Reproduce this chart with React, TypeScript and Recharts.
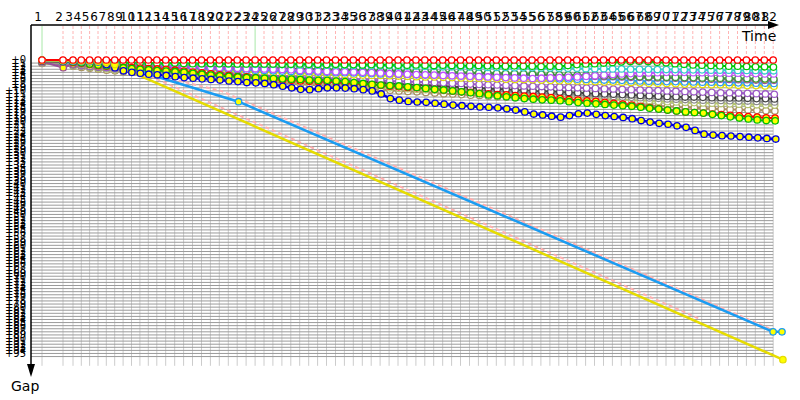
import React from "react";
import { LineChart, Line, XAxis, YAxis, ReferenceLine } from "recharts";

// leader's elapsed time (s) at the end of each lap, laps 1..82
const lapTimes = [
  110, 320, 420, 503, 586, 670, 753, 837, 921, 1005,
  1089, 1173, 1258, 1347, 1437, 1526, 1615, 1705, 1794, 1883,
  1973, 2062, 2151, 2241, 2330, 2419, 2509, 2598, 2687, 2777,
  2866, 2955, 3045, 3134, 3223, 3313, 3402, 3491, 3581, 3670,
  3759, 3849, 3938, 4027, 4117, 4206, 4295, 4385, 4474, 4563,
  4653, 4742, 4831, 4921, 5010, 5099, 5189, 5278, 5367, 5457,
  5546, 5635, 5725, 5814, 5903, 5993, 6082, 6171, 6261, 6350,
  6439, 6529, 6618, 6707, 6797, 6886, 6975, 7065, 7154, 7243,
  7333, 7422,
];
const lapLabels = lapTimes.map((_, i) => String(i + 1));
const gapTicks = Array.from({ length: 96 }, (_, i) => i);
const gapLines = Array.from({ length: 96 }, (_, i) => i + 1);
const greenLaps = [1, 24];

// gap to leader (s) per lap
const leader = [
  0, 0, 0, 0, 0, 0, 0, 0, 0, 0, 0, 0, 0, 0, 0, 0, 0, 0, 0, 0,
  0, 0, 0, 0, 0, 0, 0, 0, 0, 0, 0, 0, 0, 0, 0, 0, 0, 0, 0, 0,
  0, 0, 0, 0, 0, 0, 0, 0, 0, 0, 0, 0, 0, 0, 0, 0, 0, 0, 0, 0,
  0, 0, 0, 0, 0, 0, 0, 0, 0, 0, 0, 0, 0, 0, 0, 0, 0, 0, 0, 0,
  0, 0,
];
const green = [
  0.3, 0.5, 0.6, 0.6, 0.7, 0.7, 0.8, 0.8, 0.9, 0.9,
  1.0, 1.0, 1.1, 1.1, 1.0, 1.1, 1.2, 1.2, 1.1, 1.2,
  1.2, 1.3, 1.3, 1.2, 1.3, 1.3, 1.4, 1.4, 1.3, 1.4,
  1.4, 1.5, 1.4, 1.5, 1.5, 1.6, 1.5, 1.6, 1.6, 1.7,
  1.7, 1.6, 1.7, 1.8, 1.7, 1.8, 1.8, 1.9, 1.8, 1.9,
  1.9, 2.0, 1.9, 2.0, 2.0, 2.1, 2.0, 2.1, 1.8, 1.5,
  1.3, 1.2, 1.0, 0.8, 0.6, 0.5, 0.4, 0.5, 0.7, 0.9,
  1.2, 1.4, 1.6, 1.7, 1.8, 1.9, 2.0, 2.0, 2.1, 2.2, 2.2, 2.3,
];
const cyan = [
  0.2, 0.4, 0.5, 0.6, 0.6, 0.7, 0.7, 0.8, 0.8, 0.9,
  0.9, 1.0, 1.0, 1.0, 1.1, 1.1, 1.1, 1.2, 1.2, 1.2,
  1.3, 1.3, 1.3, 1.4, 1.4, 1.4, 1.5, 1.5, 1.6, 1.6,
  1.6, 1.7, 1.7, 1.7, 1.8, 1.8, 1.9, 1.9, 1.9, 2.0,
  2.0, 2.0, 2.1, 2.1, 2.2, 2.2, 2.2, 2.3, 2.3, 2.4,
  2.4, 2.4, 2.5, 2.5, 2.5, 2.6, 2.6, 2.7, 2.7, 2.7,
  2.8, 2.8, 2.8, 2.9, 2.9, 3.0, 3.0, 3.0, 3.1, 3.1,
  3.1, 3.2, 3.2, 3.2, 3.3, 3.3, 3.3, 3.4, 3.4, 3.4, 3.5, 3.5,
];
const violet = [
  0.3, 0.5, 0.6, 0.8, 0.9, 1.0, 1.1, 1.2, 1.4, 1.5,
  1.6, 1.7, 1.8, 1.9, 2.0, 2.1, 2.2, 2.3, 2.4, 2.5,
  2.6, 2.7, 2.8, 2.8, 2.9, 3.0, 3.1, 3.2, 3.4, 3.5,
  3.6, 3.7, 3.8, 3.8, 3.9, 4.0, 4.1, 4.2, 4.4, 4.5,
  4.6, 4.7, 4.8, 4.9, 5.0, 5.1, 5.2, 5.3, 5.4, 5.5,
  5.6, 5.7, 5.8, 5.9, 6.0, 5.9, 5.8, 5.7, 5.6, 5.5,
  5.3, 5.1, 4.9, 4.7, 4.5, 4.4, 4.3, 4.2, 4.1, 4.0,
  4.0, 4.0, 4.1, 4.1, 4.2, 4.2, 4.3, 4.3, 4.4, 4.4, 4.5, 4.5,
];
const mauve = [
  0.5, 2.5, 1.3, 1.2, 1.3, 1.4, 1.5, 1.6, 1.7, 1.8,
  1.9, 2.0, 2.0, 2.1, 2.2, 2.2, 2.3, 2.4, 2.4, 2.5,
  2.6, 2.6, 2.7, 2.8, 2.8, 2.9, 3.0, 3.0, 3.1, 3.2,
  3.2, 3.3, 3.4, 3.4, 3.5, 3.6, 3.6, 3.7, 3.8, 3.8,
  3.9, 4.0, 4.0, 4.1, 4.2, 4.2, 4.3, 4.4, 4.4, 4.5,
  4.6, 4.6, 4.7, 4.8, 4.8, 4.9, 5.0, 5.0, 5.1, 5.2,
  5.2, 5.3, 5.4, 5.4, 5.5, 5.6, 5.6, 5.7, 5.8, 5.8,
  5.9, 6.0, 6.0, 6.1, 6.2, 6.2, 6.3, 6.4, 6.4, 6.5, 6.6, 6.6,
];
const darkGreen = [
  0.4, 0.6, 0.7, 0.9, 1.0, 1.1, 1.2, 1.3, 1.4, 1.5,
  1.6, 1.7, 1.7, 1.8, 1.9, 2.0, 2.0, 2.1, 2.2, 2.2,
  2.3, 2.4, 2.4, 2.5, 2.6, 2.6, 2.7, 2.8, 2.8, 2.9,
  3.0, 3.0, 3.1, 3.2, 3.2, 3.3, 3.4, 3.4, 3.5, 3.6,
  3.6, 3.7, 3.8, 3.8, 3.9, 4.0, 4.0, 4.1, 4.2, 4.2,
  4.3, 4.4, 4.4, 4.5, 4.6, 4.6, 4.7, 4.8, 4.8, 4.9,
  5.0, 5.0, 5.1, 5.2, 5.2, 5.3, 5.4, 5.4, 5.5, 5.6,
  5.6, 5.7, 5.7, 5.8, 5.8, 5.9, 5.9, 6.0, 6.0, 6.1, 6.1, 6.2,
];
const skyBlue = [
  0.5, 0.8, 1.0, 1.2, 1.4, 1.5, 1.6, 1.8, 1.9, 2.0,
  2.1, 2.2, 2.3, 2.4, 2.5, 2.6, 2.7, 2.8, 2.9, 3.0,
  3.1, 3.2, 3.3, 3.3, 3.4, 3.5, 3.6, 3.7, 3.7, 3.8,
  3.9, 4.0, 4.1, 4.1, 4.2, 4.3, 4.4, 4.5, 4.5, 4.6,
  4.7, 4.8, 4.9, 4.9, 5.0, 5.1, 5.2, 5.3, 5.3, 5.4,
  5.5, 5.6, 5.7, 5.7, 5.8, 5.9, 6.0, 6.1, 6.1, 6.2,
  6.3, 6.4, 6.5, 6.5, 6.6, 6.7, 6.8, 6.9, 6.9, 7.0,
  7.0, 7.1, 7.1, 7.2, 7.2, 7.3, 7.3, 7.4, 7.4, 7.5, 7.5, 7.6,
];
const yellow = [
  0.6, 0.9, 1.2, 1.4, 1.6, 1.8, 1.9, 2.1, 2.2, 2.3,
  2.4, 2.5, 2.6, 2.8, 2.9, 3.0, 3.1, 3.2, 3.3, 3.4,
  3.5, 3.6, 3.7, 3.8, 3.9, 4.0, 4.1, 4.2, 4.3, 4.4,
  4.4, 4.5, 4.6, 4.7, 4.8, 4.9, 5.0, 5.0, 5.1, 5.2,
  5.3, 5.4, 5.5, 5.5, 5.6, 5.7, 5.8, 5.9, 5.9, 6.0,
  6.1, 6.2, 6.3, 6.3, 6.4, 6.5, 6.6, 6.7, 6.7, 6.8,
  6.9, 7.0, 7.1, 7.1, 7.2, 7.3, 7.4, 7.5, 7.5, 7.6,
  7.7, 7.8, 7.8, 7.9, 8.0, 8.0, 8.1, 8.2, 8.3, 8.3, 8.4, 8.5,
];
const purple = [
  0.8, 1.2, 1.5, 1.8, 2.0, 2.2, 2.4, 2.6, 2.8, 3.0,
  3.1, 3.3, 3.4, 3.6, 3.7, 3.9, 4.0, 4.2, 4.3, 4.4,
  4.6, 4.7, 4.8, 5.0, 5.1, 5.2, 5.3, 5.5, 5.6, 5.7,
  5.8, 5.9, 6.0, 6.2, 6.3, 6.4, 6.5, 6.6, 6.8, 6.9,
  7.0, 7.1, 7.2, 7.3, 7.4, 7.5, 7.6, 7.8, 7.9, 8.0,
  8.1, 8.2, 8.3, 8.4, 8.5, 8.6, 8.7, 8.8, 8.9, 9.0,
  9.1, 9.2, 9.3, 9.4, 9.5, 9.6, 9.7, 9.8, 9.9, 10.0,
  10.1, 10.2, 10.3, 10.4, 10.5, 10.6, 10.6, 10.7, 10.8, 10.9, 11.0, 11.1,
];
const darkGray = [
  0.7, 1.1, 1.4, 1.7, 1.9, 2.1, 2.3, 2.5, 2.7, 2.9,
  3.0, 3.2, 3.3, 3.5, 3.7, 3.8, 4.0, 4.1, 4.3, 4.4,
  4.6, 4.8, 4.9, 5.1, 5.2, 5.4, 5.5, 5.7, 5.8, 6.0,
  6.1, 6.3, 6.5, 6.6, 6.8, 7.0, 7.2, 7.4, 7.6, 7.8,
  7.9, 8.1, 8.2, 8.4, 8.5, 8.7, 8.8, 9.0, 9.1, 9.3,
  9.4, 9.5, 9.7, 9.8, 10.0, 10.1, 10.2, 10.4, 10.5, 10.6,
  10.8, 10.9, 11.0, 11.1, 11.2, 11.3, 11.5, 11.6, 11.7, 11.8,
  11.9, 12.0, 12.0, 12.1, 12.2, 12.2, 12.3, 12.3, 12.4, 12.5, 12.5, 12.6,
];
const gray = [
  0.9, 1.3, 1.6, 1.9, 2.2, 2.4, 2.6, 2.9, 3.1, 3.3,
  3.5, 3.7, 3.9, 4.0, 4.2, 4.4, 4.6, 4.8, 5.0, 5.1,
  5.3, 5.5, 5.7, 5.9, 6.0, 6.2, 6.4, 6.6, 6.7, 6.9,
  7.1, 7.2, 7.4, 7.6, 7.7, 7.9, 8.1, 8.2, 8.4, 8.5,
  8.7, 8.8, 9.0, 9.1, 9.3, 9.4, 9.6, 9.7, 9.9, 10.0,
  10.1, 10.3, 10.4, 10.5, 10.7, 10.8, 10.9, 11.1, 11.2, 11.3,
  11.5, 11.6, 11.7, 11.8, 12.0, 12.1, 12.2, 12.3, 12.4, 12.6,
  12.7, 12.8, 12.9, 13.0, 13.0, 13.1, 13.2, 13.3, 13.3, 13.4, 13.5, 13.6,
];
const olive = [
  1.0, 1.4, 1.8, 2.1, 2.4, 2.7, 2.9, 3.2, 3.4, 3.6,
  3.8, 4.0, 4.2, 4.4, 4.6, 4.8, 5.0, 5.2, 5.4, 5.6,
  5.8, 6.0, 6.2, 6.4, 6.6, 6.8, 7.0, 7.2, 7.3, 7.5,
  7.7, 7.9, 8.0, 8.2, 8.4, 8.5, 8.7, 8.9, 9.0, 9.2,
  9.3, 9.5, 9.6, 9.8, 9.9, 10.1, 10.2, 10.4, 10.5, 10.7,
  10.8, 11.0, 11.1, 11.3, 11.4, 11.6, 11.7, 11.9, 12.0, 12.2,
  12.3, 12.4, 12.6, 12.7, 12.8, 13.0, 13.1, 13.2, 13.4, 13.5,
  13.6, 13.7, 13.8, 13.9, 14.0, 14.1, 14.2, 14.3, 14.4, 14.5, 14.5, 14.6,
];
const tan = [
  1.1, 1.6, 2.0, 2.4, 2.7, 3.0, 3.3, 3.5, 3.8, 4.0,
  4.2, 4.4, 4.6, 4.8, 5.0, 5.2, 5.4, 5.6, 5.8, 6.0,
  6.2, 6.4, 6.6, 6.8, 7.0, 7.2, 7.4, 7.6, 7.8, 8.0,
  8.2, 8.4, 8.6, 8.8, 9.0, 9.2, 9.4, 9.6, 9.8, 10.0,
  10.2, 10.3, 10.5, 10.7, 10.9, 11.0, 11.2, 11.4, 11.5, 11.7,
  11.9, 12.0, 12.2, 12.4, 12.5, 12.7, 12.9, 13.0, 13.2, 13.4,
  13.5, 13.7, 13.9, 14.0, 14.2, 14.4, 14.5, 14.7, 14.9, 15.0,
  15.2, 15.3, 15.5, 15.6, 15.7, 15.9, 16.0, 16.1, 16.2, 16.3, 16.4, 16.5,
];
const redYellow = [
  0.3, 0.5, 0.7, 1.0, 1.4, 1.8, 2.0, 2.2, 2.4, 2.5,
  2.6, 2.8, 2.9, 3.0, 3.3, 3.6, 3.9, 4.2, 4.5, 4.8,
  5.0, 5.3, 5.5, 5.8, 6.0, 6.2, 6.5, 6.6, 6.8, 6.9,
  7.0, 7.0, 7.2, 7.4, 7.6, 7.8, 8.0, 8.2, 8.5, 8.7,
  8.9, 9.0, 9.2, 9.5, 9.7, 10.0, 10.3, 10.5, 10.8, 11.0,
  11.2, 11.3, 11.5, 11.7, 11.8, 12.0, 12.2, 12.5, 12.8, 13.0,
  13.2, 13.4, 13.7, 14.0, 14.3, 14.6, 15.0, 15.4, 15.8, 16.2,
  16.5, 16.8, 17.0, 17.2, 17.5, 17.7, 17.9, 18.1, 18.3, 18.5, 18.7, 18.8,
];
const greenYellow = [
  0.0, 0.4, 0.6, 0.9, 1.3, 1.6, 1.9, 2.2, 2.5, 2.8,
  3.0, 3.2, 3.4, 3.6, 3.8, 4.0, 4.3, 4.6, 4.9, 5.1,
  5.3, 5.5, 5.7, 5.8, 5.9, 6.0, 6.1, 6.2, 6.3, 6.5,
  6.6, 6.6, 6.8, 7.0, 7.3, 7.6, 7.9, 8.1, 8.3, 8.4,
  8.7, 8.9, 9.2, 9.5, 9.7, 10.0, 10.3, 10.6, 10.9, 11.3,
  11.6, 11.9, 12.2, 12.5, 12.7, 12.9, 13.0, 13.2, 13.5, 13.8,
  14.0, 14.2, 14.4, 14.6, 14.8, 15.0, 15.3, 15.6, 15.9, 16.2,
  16.5, 16.8, 17.0, 17.2, 17.6, 18.0, 18.4, 18.8, 19.1, 19.4, 19.6, 19.7,
];
const navy = [
  0.2, 0.3, 0.3, 0.4, 0.5, 0.6, 1.5, 2.5, 3.5, 4.0,
  4.3, 4.6, 4.8, 5.0, 5.4, 5.7, 5.9, 6.1, 6.3, 6.5,
  6.8, 7.0, 7.3, 7.4, 7.6, 8.0, 8.5, 9.0, 9.5, 9.6,
  9.3, 9.0, 9.0, 9.1, 9.3, 9.6, 10.0, 11.0, 12.5, 13.0,
  13.4, 13.6, 13.7, 14.0, 14.3, 14.6, 14.8, 15.0, 15.2, 15.3,
  15.5, 15.8, 16.2, 16.8, 17.5, 17.8, 18.2, 18.5, 18.0, 17.4,
  17.2, 17.6, 18.0, 18.3, 18.6, 19.0, 19.6, 20.1, 20.5, 20.8,
  21.3, 21.8, 22.8, 24.0, 24.3, 24.5, 24.6, 24.8, 25.0, 25.2, 25.4, 25.6,
];
// sparse cars: [lap, gap]
const slowBlue = [[1, 0.2], [2, 0.3], [3, 0.4], [4, 0.5], [5, 0.5], [6, 0.6], [7, 0.8], [8, 1.2], [22, 13.5], [81, 88], [82, 88]];
const slowYellow = [[1, 0.1], [2, 0.2], [3, 0.2], [4, 0.3], [5, 0.3], [6, 0.4], [7, 0.8], [8, 1.5], [82, 97]];
// pink "lapped" guides: [time, gap]
const guideBlue = [[1000, 3], [1900, 10], [7390, 87]];
const guideYellow = [[1000, 2.5], [6700, 84]];

const font = "DejaVu Sans, sans-serif";

const byLap = (vals: number[]) => vals.map((g, i) => ({ t: lapTimes[i] + g, gap: g }));
const byPair = (pairs: number[][]) => pairs.map(([lap, g]) => ({ t: lapTimes[lap - 1] + g, gap: g }));
const byTime = (pairs: number[][]) => pairs.map(([t, g]) => ({ t, gap: g }));

const cars = [
  { key: "tan", data: byLap(tan), stroke: "#a89060", fill: "#ffffff" },
  { key: "olive", data: byLap(olive), stroke: "#b5c46e", fill: "#ffffff" },
  { key: "gray", data: byLap(gray), stroke: "#8c8c8c", fill: "#ffffff" },
  { key: "darkGray", data: byLap(darkGray), stroke: "#444444", fill: "#ffffff" },
  { key: "purple", data: byLap(purple), stroke: "#9b59c6", fill: "#ffffff" },
  { key: "yellow", data: byLap(yellow), stroke: "#e0dc00", fill: "#ffffff" },
  { key: "skyBlue", data: byLap(skyBlue), stroke: "#2e9cf0", fill: "#ffffff" },
  { key: "mauve", data: byLap(mauve), stroke: "#9a4f9a", fill: "#ffff00" },
  { key: "darkGreen", data: byLap(darkGreen), stroke: "#3a9a3a", fill: "#ffffff" },
  { key: "violet", data: byLap(violet), stroke: "#c050ff", fill: "#ffffff" },
  { key: "cyan", data: byLap(cyan), stroke: "#33cccc", fill: "#ffffff" },
  { key: "green", data: byLap(green), stroke: "#00c800", fill: "#ffffff" },
  { key: "redYellow", data: byLap(redYellow), stroke: "#ff0000", fill: "#ffff00" },
  { key: "greenYellow", data: byLap(greenYellow), stroke: "#00c000", fill: "#ffff00" },
  { key: "navy", data: byLap(navy), stroke: "#0000e0", fill: "#ffff00", width: 2.5 },
  { key: "slowBlue", data: byPair(slowBlue), stroke: "#1a9cf2", fill: "#ffff00", width: 2.5 },
  { key: "slowYellow", data: byPair(slowYellow), stroke: "#e6dc00", fill: "#ffff00", width: 2.5 },
  { key: "leader", data: byLap(leader), stroke: "#ff0000", fill: "#ffffff" },
];

const LapTick = (props: any) => {
  const idx = lapTimes.indexOf(props.payload.value);
  return (
    <text x={props.x - 4} y={21} textAnchor="middle" fontSize={12} fontFamily={font} fill="#000">
      {lapLabels[idx]}
    </text>
  );
};

const GapTick = (props: any) => (
  <text x={26} y={props.y + 3.5} textAnchor="end" fontSize={10} fontFamily={font} fill="#000">
    {`+${props.payload.value}`}
  </text>
);

export default function App() {
  const lastT = lapTimes[lapTimes.length - 1];
  return (
    <div style={{ position: "absolute", left: 0, top: 0, width: 800, height: 400, background: "#fff" }}>
      <LineChart width={800} height={400} margin={{ top: 0, right: 10, bottom: 28, left: 0 }}>
        <XAxis
          type="number"
          dataKey="t"
          orientation="top"
          height={26}
          domain={[0, 7590]}
          ticks={lapTimes}
          interval={0}
          tick={<LapTick />}
          axisLine={false}
          tickLine={false}
          allowDataOverflow
        />
        <YAxis
          type="number"
          dataKey="gap"
          reversed
          width={31}
          domain={[-11, 101]}
          ticks={gapTicks}
          interval={0}
          tick={<GapTick />}
          axisLine={false}
          tickLine={false}
          allowDataOverflow
        />
        {lapTimes.map((t) => (
          <ReferenceLine key={`gv${t}`} segment={[{ x: t, y: 0 }, { x: t, y: 99 }]} stroke="#cccccc" strokeWidth={1} />
        ))}
        {gapLines.map((g) => (
          <ReferenceLine key={`gh${g}`} segment={[{ x: 0, y: g }, { x: lastT, y: g }]} stroke="#9a9a9a" strokeWidth={1} />
        ))}
        {lapTimes.map((t, i) => (
          <ReferenceLine
            key={`pv${t}`}
            segment={[{ x: t, y: -11 }, { x: t, y: 0 }]}
            stroke={greenLaps.includes(i + 1) ? "#a8e8a8" : "#ffb4b4"}
            strokeDasharray={greenLaps.includes(i + 1) ? undefined : "3 2"}
            strokeWidth={1}
          />
        ))}
        <Line data={byTime(guideBlue)} dataKey="gap" stroke="#ffb0b0" strokeWidth={2} strokeDasharray="4 3" dot={false} isAnimationActive={false} />
        <Line data={byTime(guideYellow)} dataKey="gap" stroke="#ffb0b0" strokeWidth={2} strokeDasharray="4 3" dot={false} isAnimationActive={false} />
        {cars.map((c) => (
          <Line
            key={c.key}
            data={c.data}
            dataKey="gap"
            stroke={c.stroke}
            strokeWidth={c.width ?? 2}
            dot={{ r: 3.2, fill: c.fill, stroke: c.stroke, strokeWidth: 1.3 }}
            isAnimationActive={false}
          />
        ))}
      </LineChart>
      <svg width={800} height={400} style={{ position: "absolute", left: 0, top: 0, pointerEvents: "none" }}>
        <line x1={31} y1={25} x2={770} y2={25} stroke="#000" strokeWidth={1.5} />
        <polygon points="768,21 779,25 768,29" fill="#000" />
        <line x1={31} y1={25} x2={31} y2={366} stroke="#000" strokeWidth={1.5} />
        <polygon points="27,364 31,377 35,364" fill="#000" />
        <text x={742} y={41} fontSize={14} fontFamily={font} fill="#000">Time</text>
        <text x={11} y={391} fontSize={14} fontFamily={font} fill="#000">Gap</text>
      </svg>
    </div>
  );
}
